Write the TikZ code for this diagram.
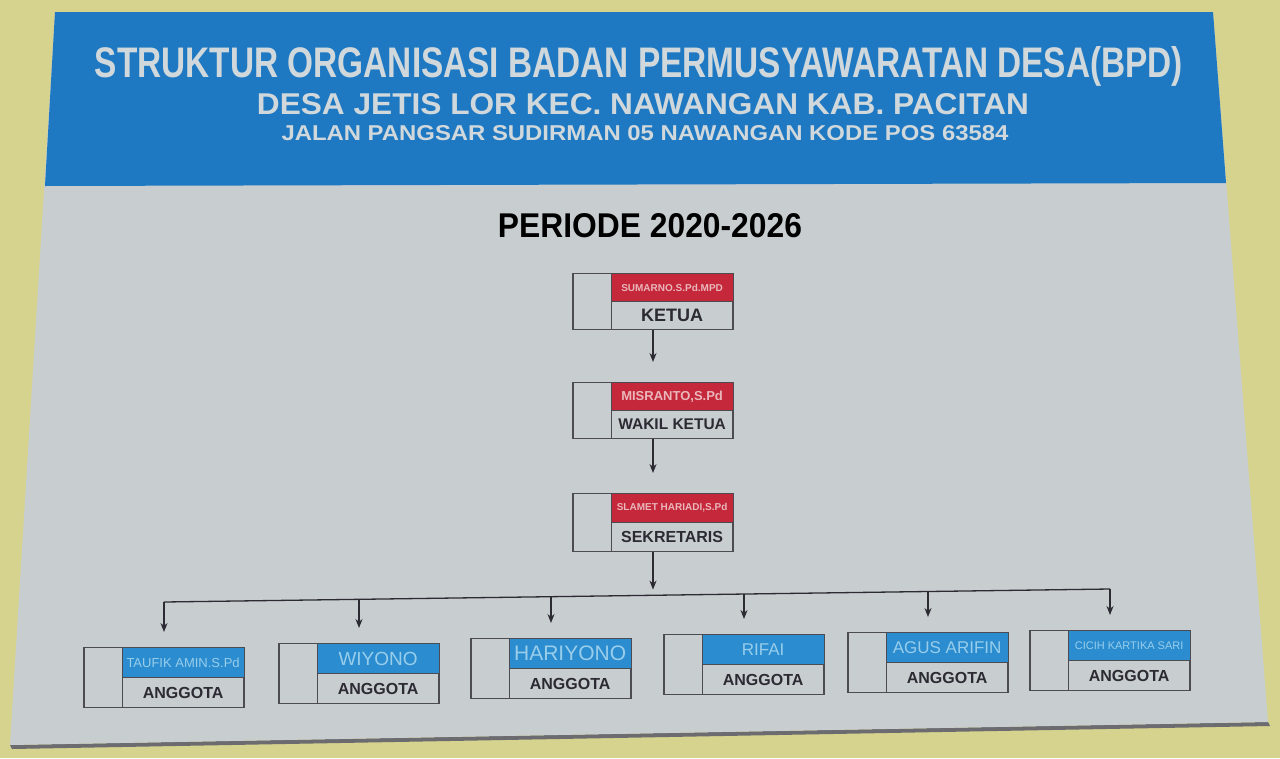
\documentclass[tikz,border=0pt]{standalone}
\usepackage{fontspec}
\setmainfont{Liberation Sans}
\usepackage{graphicx}
\usetikzlibrary{positioning,arrows.meta}
\definecolor{wall}{HTML}{D6D38E}
\definecolor{board}{HTML}{C8CDD0}
\definecolor{header}{HTML}{1F79C2}
\definecolor{headtext}{HTML}{D0D8DC}
\definecolor{barred}{HTML}{C5283A}
\definecolor{redtext}{HTML}{E9B7BC}
\definecolor{barblue}{HTML}{2B8DCF}
\definecolor{bluetext}{HTML}{98CDEB}
\definecolor{ink}{HTML}{2C2B33}
\tikzset{
  memberbox/.style={draw=ink!85, line width=1.2pt, minimum width=160pt, minimum height=#1, inner sep=0pt, anchor=north},
  namebar/.style={draw=ink!85, line width=1pt, minimum width=122pt, minimum height=#1, inner sep=0pt, anchor=north east},
  rolecell/.style={draw=ink!85, line width=1pt, minimum width=122pt, minimum height=#1, inner sep=0pt, anchor=south east, text=ink, font=\bfseries\fontsize{16}{16}\selectfont},
  link/.style={-{Stealth[length=9pt,width=7pt]}, line width=1.3pt, draw=ink}
}
\begin{document}
\begin{tikzpicture}[x=1pt, y=-1pt]
  \useasboundingbox (0,0) rectangle (1280,758);
  \fill[wall] (0,0) rectangle (1280,758);
  % board and blue header
  \fill[ink!70] (10,745) -- (1268,722) -- (1270,726) -- (12,749) -- cycle;
  \fill[board] (55,12) -- (1213,12) -- (1268,722) -- (10,745) -- cycle;
  \fill[header] (55,12) -- (1213,12) -- (1226,183) -- (45,186) -- cycle;
  \node[text=headtext, anchor=base, inner sep=0pt] (title) at (639,77)
    {\resizebox{1088pt}{31pt}{\bfseries STRUKTUR ORGANISASI BADAN PERMUSYAWARATAN DESA(BPD)}};
  \node[text=headtext, anchor=base, inner sep=0pt] (village) at (643,114)
    {\resizebox{772pt}{21pt}{\bfseries DESA JETIS LOR KEC. NAWANGAN KAB. PACITAN}};
  \node[text=headtext, anchor=base, inner sep=0pt] (address) at (645,140)
    {\resizebox{727pt}{15pt}{\bfseries JALAN PANGSAR SUDIRMAN 05 NAWANGAN KODE POS 63584}};
  \node[text=black, anchor=base, inner sep=0pt] (period) at (650,237)
    {\resizebox{304pt}{24pt}{\bfseries PERIODE 2020-2026}};

  % pimpinan
  \node[memberbox=56pt] (ketua) at (653,273) {};
  \node[namebar=28pt, fill=barred, text=redtext, font=\bfseries\fontsize{10}{10}\selectfont] (ketuaname) at (ketua.north east) {SUMARNO.S.Pd.MPD};
  \node[rolecell=28pt, font=\bfseries\fontsize{18}{18}\selectfont] (ketuarole) at (ketua.south east) {KETUA};

  \node[memberbox=56pt] (wakil) at (653,382) {};
  \node[namebar=28pt, fill=barred, text=redtext, font=\bfseries\fontsize{13}{13}\selectfont] (wakilname) at (wakil.north east) {MISRANTO,S.Pd};
  \node[rolecell=28pt, font=\bfseries\fontsize{15.5}{16}\selectfont] (wakilrole) at (wakil.south east) {WAKIL KETUA};

  \node[memberbox=58pt] (sekretaris) at (653,493) {};
  \node[namebar=29pt, fill=barred, text=redtext, font=\bfseries\fontsize{10}{10}\selectfont] (sekretarisname) at (sekretaris.north east) {SLAMET HARIADI,S.Pd};
  \node[rolecell=29pt] (sekretarisrole) at (sekretaris.south east) {SEKRETARIS};

  \draw[link, shorten >=20pt] (ketua.south) -- (wakil.north);
  \draw[link, shorten >=20pt] (wakil.south) -- (sekretaris.north);

  % anggota
  \foreach \x/\y/\b/\nm/\s [count=\i] in {164/647/602/TAUFIK AMIN.S.Pd/13, 359/643/599.3/WIYONO/19,
      551/638/596.9/HARIYONO/21, 744/634/594.1/RIFAI/17, 928/632/591.8/AGUS ARIFIN/17,
      1110/630/589/CICIH KARTIKA SARI/11}{
    \node[memberbox=60pt] (m\i) at (\x,\y) {};
    \node[namebar=30pt, fill=barblue, text=bluetext, font=\fontsize{\s}{\s}\selectfont] (m\i-name) at (m\i.north east) {\nm};
    \node[rolecell=30pt] (m\i-role) at (m\i.south east) {ANGGOTA};
    \coordinate (bus\i) at (\x,\b);
  }
  \coordinate (busmid) at (653,595.6);
  \draw[line width=1.3pt, ink] (bus1) -- (bus6);
  \draw[link, shorten >=6pt] (sekretaris.south) -- (busmid);
  \foreach \i in {1,...,6}
    \draw[link, shorten >=15pt] (bus\i) -- (m\i.north);
\end{tikzpicture}
\end{document}
